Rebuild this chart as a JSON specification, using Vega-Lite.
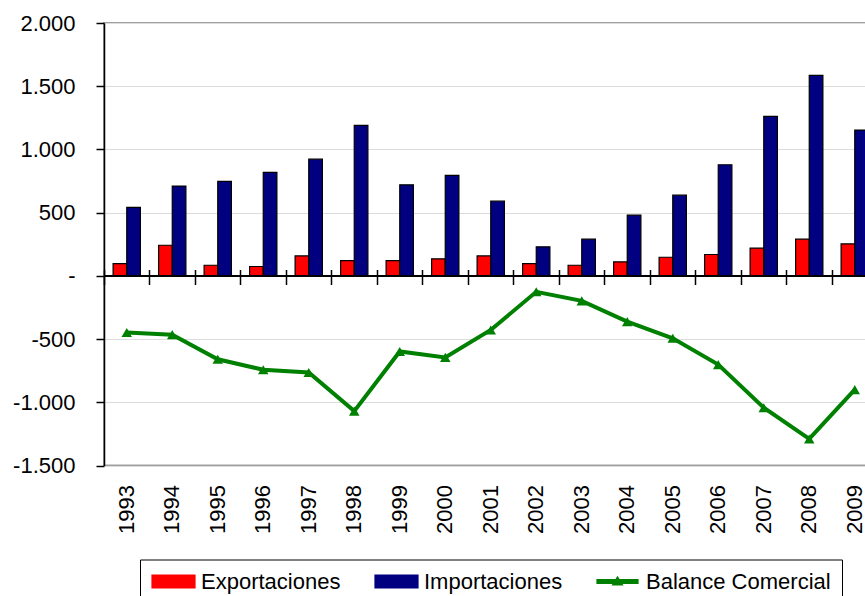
{
  "$schema": "https://vega.github.io/schema/vega-lite/v6.json",
  "width": 773.5,
  "height": 442.5,
  "padding": {"left": 12, "top": 12, "right": 0, "bottom": 0},
  "background": "white",
  "config": {
    "font": "Liberation Sans",
    "view": {"stroke": "#a0a0a0", "strokeWidth": 2},
    "axis": {"labelFont": "Liberation Sans", "labelColor": "black", "labelFontSize": 22, "titleFont": "Liberation Sans"},
    "legend": {"labelFont": "Liberation Sans"}
  },
  "data": {
    "values": [
      {"year": "1993", "series": "Exportaciones", "value": 97},
      {"year": "1994", "series": "Exportaciones", "value": 242},
      {"year": "1995", "series": "Exportaciones", "value": 84},
      {"year": "1996", "series": "Exportaciones", "value": 74},
      {"year": "1997", "series": "Exportaciones", "value": 158},
      {"year": "1998", "series": "Exportaciones", "value": 121},
      {"year": "1999", "series": "Exportaciones", "value": 121},
      {"year": "2000", "series": "Exportaciones", "value": 135},
      {"year": "2001", "series": "Exportaciones", "value": 158},
      {"year": "2002", "series": "Exportaciones", "value": 97},
      {"year": "2003", "series": "Exportaciones", "value": 84},
      {"year": "2004", "series": "Exportaciones", "value": 111},
      {"year": "2005", "series": "Exportaciones", "value": 147},
      {"year": "2006", "series": "Exportaciones", "value": 169},
      {"year": "2007", "series": "Exportaciones", "value": 219},
      {"year": "2008", "series": "Exportaciones", "value": 290},
      {"year": "2009", "series": "Exportaciones", "value": 253},
      {"year": "1993", "series": "Importaciones", "value": 541},
      {"year": "1994", "series": "Importaciones", "value": 710},
      {"year": "1995", "series": "Importaciones", "value": 747},
      {"year": "1996", "series": "Importaciones", "value": 818},
      {"year": "1997", "series": "Importaciones", "value": 923},
      {"year": "1998", "series": "Importaciones", "value": 1190},
      {"year": "1999", "series": "Importaciones", "value": 720},
      {"year": "2000", "series": "Importaciones", "value": 794},
      {"year": "2001", "series": "Importaciones", "value": 591},
      {"year": "2002", "series": "Importaciones", "value": 230},
      {"year": "2003", "series": "Importaciones", "value": 290},
      {"year": "2004", "series": "Importaciones", "value": 480},
      {"year": "2005", "series": "Importaciones", "value": 638},
      {"year": "2006", "series": "Importaciones", "value": 879},
      {"year": "2007", "series": "Importaciones", "value": 1261},
      {"year": "2008", "series": "Importaciones", "value": 1586},
      {"year": "2009", "series": "Importaciones", "value": 1153},
      {"year": "1993", "series": "Balance Comercial", "value": -448},
      {"year": "1994", "series": "Balance Comercial", "value": -465},
      {"year": "1995", "series": "Balance Comercial", "value": -660},
      {"year": "1996", "series": "Balance Comercial", "value": -743},
      {"year": "1997", "series": "Balance Comercial", "value": -764},
      {"year": "1998", "series": "Balance Comercial", "value": -1070},
      {"year": "1999", "series": "Balance Comercial", "value": -598},
      {"year": "2000", "series": "Balance Comercial", "value": -645},
      {"year": "2001", "series": "Balance Comercial", "value": -428},
      {"year": "2002", "series": "Balance Comercial", "value": -126},
      {"year": "2003", "series": "Balance Comercial", "value": -198},
      {"year": "2004", "series": "Balance Comercial", "value": -362},
      {"year": "2005", "series": "Balance Comercial", "value": -494},
      {"year": "2006", "series": "Balance Comercial", "value": -702},
      {"year": "2007", "series": "Balance Comercial", "value": -1043},
      {"year": "2008", "series": "Balance Comercial", "value": -1290},
      {"year": "2009", "series": "Balance Comercial", "value": -900}
    ]
  },
  "encoding": {
    "y": {
      "field": "value",
      "type": "quantitative",
      "scale": {"domain": [-1500, 2000], "nice": false, "zero": false},
      "axis": {
        "title": null,
        "values": [-1500, -1000, -500, 0, 500, 1000, 1500, 2000],
        "labelExpr": "datum.value == 0 ? '-' : (datum.value < 0 ? '-' : '') + replace(format(abs(datum.value), ','), ',', '.')",
        "domainColor": "black",
        "domainWidth": 1.5,
        "tickColor": "black",
        "tickWidth": 1.5,
        "tickSize": 8,
        "labelPadding": 21,
        "gridColor": "#dcdcdc",
        "gridWidth": 1
      }
    },
    "color": {
      "field": "series",
      "type": "nominal",
      "scale": {
        "domain": ["Exportaciones", "Importaciones", "Balance Comercial"],
        "range": ["#ff0000", "#000080", "#008000"]
      },
      "legend": {
        "title": null,
        "orient": "none",
        "legendX": 36,
        "legendY": 536.5,
        "direction": "horizontal",
        "strokeColor": "black",
        "padding": 11,
        "columnPadding": 31,
        "labelOffset": 28,
        "labelFontSize": 22,
        "labelColor": "black",
        "labelLimit": 400,
        "symbolSize": 100,
        "symbolType": "M-2,-1.3H6.6V1.3H-2Z",
        "encode": {
          "symbols": {
            "update": {
              "shape": {"signal": "datum.value === 'Balance Comercial' ? 'M-2,-0.4H6.2V0.4H-2Z M1.1,0.7L2.1,-0.9L3.1,0.7Z' : 'M-2,-1.3H6.6V1.3H-2Z'"},
              "fill": {"scale": "color", "field": "value"},
              "fillOpacity": {"value": 1},
              "stroke": {"signal": "datum.value === 'Balance Comercial' ? 'transparent' : 'black'"},
              "strokeWidth": {"value": 1.2},
              "opacity": {"value": 1}
            }
          }
        }
      }
    }
  },
  "layer": [
    {
      "transform": [{"filter": "datum.series !== 'Balance Comercial'"}],
      "mark": {"type": "bar", "stroke": "black", "strokeWidth": 1.2},
      "encoding": {
        "x": {
          "field": "year",
          "type": "nominal",
          "scale": {"paddingInner": 0, "paddingOuter": 0},
          "axis": {
            "title": null,
            "labelAngle": -90,
            "labelAlign": "right",
            "labelBaseline": "middle",
            "ticks": false,
            "tickSize": 0,
            "domain": false,
            "labelPadding": 19,
            "grid": false
          }
        },
        "xOffset": {
          "field": "series",
          "type": "nominal",
          "scale": {"domain": ["Exportaciones", "Importaciones"], "paddingInner": 0, "paddingOuter": 0.667}
        }
      }
    },
    {
      "mark": {"type": "rule", "color": "black", "strokeWidth": 1.5},
      "encoding": {"y": {"datum": 0}, "color": {"value": "black"}}
    },
    {
      "transform": [{"filter": "datum.series === 'Balance Comercial'"}],
      "mark": {
        "type": "line",
        "strokeWidth": 4,
        "point": {"shape": "triangle-up", "size": 110, "filled": true, "color": "#008000"}
      },
      "encoding": {
        "x": {
          "field": "year",
          "type": "nominal",
          "axis": {
            "title": null,
            "orient": "bottom",
            "offset": -196,
            "labels": false,
            "domain": false,
            "grid": false,
            "ticks": true,
            "tickSize": 15,
            "tickColor": "black",
            "tickWidth": 1.5,
            "bandPosition": 0
          }
        }
      }
    }
  ],
  "resolve": {"scale": {"x": "shared"}, "axis": {"x": "independent"}}
}
